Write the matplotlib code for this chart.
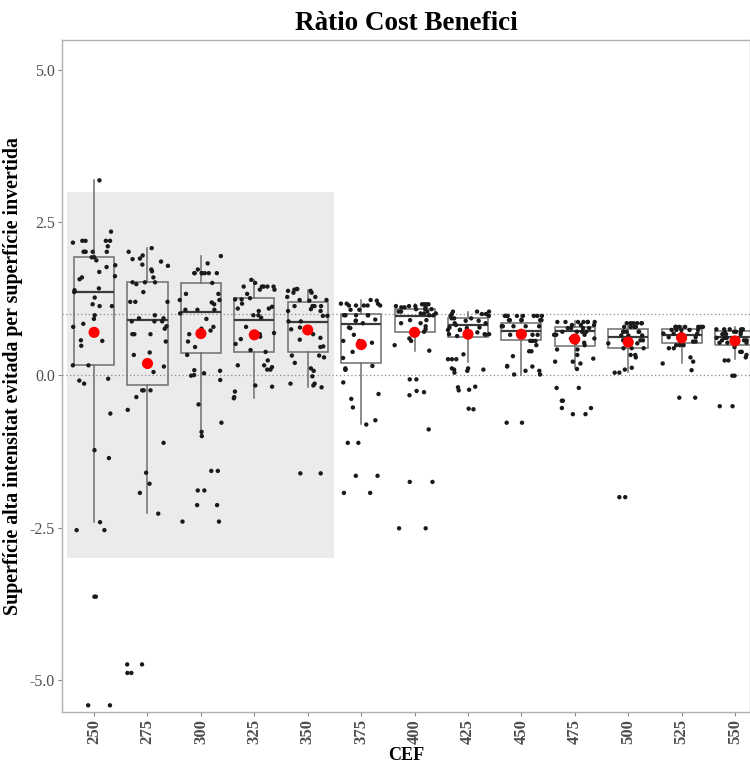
import numpy as np
import matplotlib
matplotlib.use("Agg")
import matplotlib.pyplot as plt
from matplotlib.patches import Rectangle

# --- data -------------------------------------------------------------------
cef_levels = ["250", "275", "300", "325", "350", "375", "400",
              "425", "450", "475", "500", "525", "550"]

# box statistics per CEF level: lower whisker, Q1, median, Q3, upper whisker
whisker_lo = [-2.40, -2.26, -0.98, -0.38, -0.20, -0.80, 0.40, 0.22, 0.00, 0.11, 0.05, 0.20, 0.27]
q1         = [0.16, -0.16, 0.37, 0.38, 0.38, 0.19, 0.70, 0.63, 0.57, 0.48, 0.44, 0.53, 0.50]
medians    = [1.36, 0.90, 1.03, 0.91, 0.87, 0.83, 0.97, 0.82, 0.72, 0.73, 0.62, 0.66, 0.63]
q3         = [1.94, 1.52, 1.51, 1.26, 1.20, 1.00, 1.08, 0.94, 0.86, 0.79, 0.76, 0.76, 0.73]
whisker_hi = [3.19, 2.08, 1.95, 1.55, 1.40, 1.23, 1.16, 1.04, 0.97, 0.89, 0.86, 0.80, 0.78]
means      = [0.70, 0.19, 0.68, 0.66, 0.74, 0.50, 0.70, 0.67, 0.67, 0.59, 0.54, 0.61, 0.56]

# individual ratios per CEF level
ratio_250 = [3.19, 2.35, 2.20, 2.20, 2.20, 2.20, 2.17, 2.11, 2.02, 2.02, 2.02, 2.02, 2.02,
             1.93, 1.93, 1.88, 1.80, 1.77, 1.69, 1.62, 1.60, 1.57, 1.42, 1.39, 1.36, 1.27,
             1.16, 1.13, 1.13, 0.98, 0.92, 0.84, 0.79, 0.57, 0.56, 0.48, 0.16, 0.16,
             -0.06, -0.09, -0.14, -0.63, -1.23, -1.36, -2.41, -2.54, -2.54,
             -3.63, -3.63, -5.41, -5.41]
ratio_275 = [2.08, 2.02, 1.96, 1.91, 1.90, 1.86, 1.81, 1.79, 1.73, 1.70, 1.60, 1.52, 1.52,
             1.52, 1.49, 1.36, 1.20, 1.20, 1.20, 0.98, 0.93, 0.93, 0.88, 0.88, 0.88, 0.80,
             0.76, 0.67, 0.67, 0.67, 0.55, 0.37, 0.33, 0.14, 0.05, -0.25, -0.25, -0.25,
             -0.36, -0.57, -1.11, -1.60, -1.78, -1.93, -2.27, -4.74, -4.74, -4.88, -4.88]
ratio_300 = [1.95, 1.83, 1.73, 1.67, 1.67, 1.67, 1.67, 1.67, 1.67, 1.67, 1.51, 1.33, 1.33,
             1.23, 1.23, 1.19, 1.16, 1.07, 1.07, 1.07, 1.01, 0.92, 0.79, 0.76, 0.73, 0.67,
             0.55, 0.46, 0.33, 0.08, 0.07, 0.03, 0.00, -0.01, -0.08, -0.48, -0.78, -0.93,
             -1.00, -1.57, -1.57, -1.89, -1.89, -2.13, -2.13, -2.40, -2.40]
ratio_325 = [1.56, 1.51, 1.45, 1.45, 1.45, 1.45, 1.45, 1.40, 1.40, 1.33, 1.26, 1.24, 1.24,
             1.17, 1.12, 1.09, 1.09, 1.05, 0.98, 0.98, 0.94, 0.79, 0.69, 0.69, 0.67, 0.63,
             0.59, 0.51, 0.41, 0.38, 0.24, 0.16, 0.16, 0.13, 0.09, 0.09, -0.17, -0.19,
             -0.27, -0.36, -0.38]
ratio_350 = [1.41, 1.41, 1.40, 1.38, 1.38, 1.35, 1.35, 1.28, 1.28, 1.23, 1.23, 1.22, 1.13,
             1.13, 1.13, 1.13, 1.08, 1.05, 1.05, 0.97, 0.97, 0.88, 0.88, 0.78, 0.75, 0.67,
             0.61, 0.58, 0.47, 0.46, 0.32, 0.32, 0.29, 0.20, 0.11, 0.07, -0.02, -0.14,
             -0.14, -0.17, -0.20, -1.61, -1.61]
ratio_375 = [1.23, 1.22, 1.17, 1.17, 1.17, 1.14, 1.14, 1.14, 1.14, 1.14, 1.07, 1.07, 0.98,
             0.98, 0.98, 0.98, 0.98, 0.91, 0.89, 0.89, 0.85, 0.78, 0.77, 0.66, 0.56, 0.56,
             0.53, 0.49, 0.38, 0.28, 0.15, 0.11, 0.09, 0.09, -0.12, -0.31, -0.39, -0.53,
             -0.74, -0.81, -1.11, -1.11, -1.65, -1.65, -1.93, -1.93]
ratio_400 = [1.16, 1.16, 1.16, 1.16, 1.13, 1.13, 1.13, 1.11, 1.11, 1.11, 1.08, 1.08, 1.08,
             1.04, 1.04, 1.04, 1.01, 1.01, 1.01, 0.98, 0.98, 0.90, 0.90, 0.85, 0.85, 0.80,
             0.75, 0.71, 0.68, 0.60, 0.56, 0.49, 0.40, -0.07, -0.07, -0.26, -0.28, -0.33,
             -0.89, -1.75, -1.75, -2.51, -2.51]
ratio_425 = [1.04, 1.04, 1.04, 1.00, 1.00, 1.00, 0.97, 0.97, 0.93, 0.93, 0.93, 0.89, 0.89,
             0.85, 0.85, 0.82, 0.78, 0.78, 0.77, 0.74, 0.74, 0.74, 0.70, 0.70, 0.67, 0.67,
             0.67, 0.66, 0.64, 0.34, 0.26, 0.26, 0.26, 0.11, 0.11, 0.09, 0.09, 0.07, 0.04,
             -0.19, -0.20, -0.24, -0.25, -0.55, -0.56]
ratio_450 = [0.97, 0.97, 0.97, 0.97, 0.97, 0.97, 0.97, 0.97, 0.90, 0.90, 0.90, 0.90, 0.90,
             0.90, 0.80, 0.80, 0.80, 0.80, 0.80, 0.66, 0.66, 0.66, 0.66, 0.56, 0.56, 0.56,
             0.49, 0.39, 0.39, 0.31, 0.15, 0.14, 0.14, 0.07, 0.07, 0.01, 0.01, -0.78, -0.78]
ratio_475 = [0.87, 0.87, 0.87, 0.87, 0.87, 0.87, 0.87, 0.82, 0.82, 0.82, 0.77, 0.77, 0.77,
             0.77, 0.71, 0.71, 0.71, 0.71, 0.66, 0.66, 0.66, 0.60, 0.60, 0.60, 0.53, 0.53,
             0.49, 0.42, 0.42, 0.33, 0.27, 0.22, 0.22, 0.19, 0.10, -0.21, -0.21, -0.42,
             -0.42, -0.54, -0.54, -0.64, -0.64]
ratio_500 = [0.85, 0.85, 0.85, 0.85, 0.85, 0.85, 0.79, 0.79, 0.79, 0.79, 0.71, 0.71, 0.71,
             0.71, 0.71, 0.65, 0.65, 0.65, 0.57, 0.57, 0.57, 0.52, 0.52, 0.52, 0.44, 0.44,
             0.44, 0.33, 0.33, 0.29, 0.12, 0.09, 0.04, 0.04, -2.00, -2.00]
ratio_525 = [0.79, 0.79, 0.79, 0.79, 0.79, 0.79, 0.79, 0.74, 0.74, 0.74, 0.74, 0.74, 0.68,
             0.68, 0.68, 0.68, 0.62, 0.62, 0.62, 0.55, 0.55, 0.55, 0.49, 0.49, 0.49, 0.44,
             0.44, 0.29, 0.22, 0.19, 0.08, -0.37, -0.37]
ratio_550 = [0.75, 0.75, 0.75, 0.75, 0.75, 0.71, 0.71, 0.71, 0.71, 0.67, 0.67, 0.67, 0.67,
             0.61, 0.61, 0.61, 0.57, 0.57, 0.57, 0.57, 0.53, 0.53, 0.53, 0.46, 0.42, 0.38,
             0.38, 0.33, 0.29, 0.24, 0.24, -0.01, -0.01, -0.51, -0.51]

ratios = [ratio_250, ratio_275, ratio_300, ratio_325, ratio_350, ratio_375, ratio_400,
          ratio_425, ratio_450, ratio_475, ratio_500, ratio_525, ratio_550]

reference_lines = [0.0, 1.0]
highlight_levels = ("250", "350")   # first and last CEF level of the shaded band
highlight_range = (-3.0, 3.0)

# --- figure -----------------------------------------------------------------
serif = ["Liberation Serif", "DejaVu Serif"]
plt.rcParams["font.family"] = serif

fig = plt.figure(figsize=(7.5, 7.63), dpi=100)
ax = fig.add_axes([0.0827, 0.0668, 0.9173, 0.8808])

positions = np.arange(len(cef_levels))

# shaded band behind the low-CEF levels
i0 = cef_levels.index(highlight_levels[0])
i1 = cef_levels.index(highlight_levels[1])
ax.add_patch(Rectangle((i0 - 0.5, highlight_range[0]), (i1 - i0) + 1.0,
                       highlight_range[1] - highlight_range[0],
                       facecolor="#ebebeb", edgecolor="none", zorder=0))

for yref in reference_lines:
    ax.axhline(yref, color="#8a8a8a", linestyle=(0, (1, 2)), linewidth=0.9, zorder=1)

stats = [dict(whislo=lo, q1=a, med=m, q3=b, whishi=hi, fliers=[])
         for lo, a, m, b, hi in zip(whisker_lo, q1, medians, q3, whisker_hi)]
box_color = "#6e6e6e"
ax.bxp(stats, positions=positions, widths=0.75, showfliers=False, showcaps=False,
       patch_artist=True,
       boxprops=dict(facecolor="none", edgecolor=box_color, linewidth=1.1),
       whiskerprops=dict(color=box_color, linewidth=1.1),
       medianprops=dict(color="#3a3a3a", linewidth=1.6),
       zorder=2)

# jittered observations (horizontal jitter of +/-0.4)
rng = np.random.default_rng(7)
for pos, vals in zip(positions, ratios):
    xj = pos + rng.uniform(-0.4, 0.4, size=len(vals))
    ax.scatter(xj, vals, s=10, color="#1a1a1a", edgecolors="none", zorder=3)

ax.scatter(positions, means, s=64, color="#ff0000", edgecolors="none", zorder=4)

# axes styling
ax.set_xlim(-0.6, len(cef_levels) - 1 + 0.28)
ax.set_ylim(-5.52, 5.49)
ax.set_xticks(positions)
ax.set_xticklabels(cef_levels, rotation=90, fontsize=12, fontweight="bold", color="#4d4d4d")
ax.set_yticks([-5.0, -2.5, 0.0, 2.5, 5.0])
ax.set_yticklabels(["-5.0", "-2.5", "0.0", "2.5", "5.0"], fontsize=11.5, color="#4d4d4d")
ax.tick_params(axis="both", length=3, width=0.8, color="#8a8a8a", pad=2)

for side in ("left", "bottom", "top", "right"):
    ax.spines[side].set_color("#b0b0b0")
    ax.spines[side].set_linewidth(1.0)

ax.set_title("Ràtio Cost Benefici", fontsize=19.5, fontweight="bold", pad=7)
ax.set_xlabel("CEF", fontsize=13, fontweight="bold", labelpad=2)
ax.set_ylabel("Superfície alta intensitat evitada per superfície invertida",
              fontsize=14.3, fontweight="bold", labelpad=5)

fig.savefig("out.png", dpi=100)
